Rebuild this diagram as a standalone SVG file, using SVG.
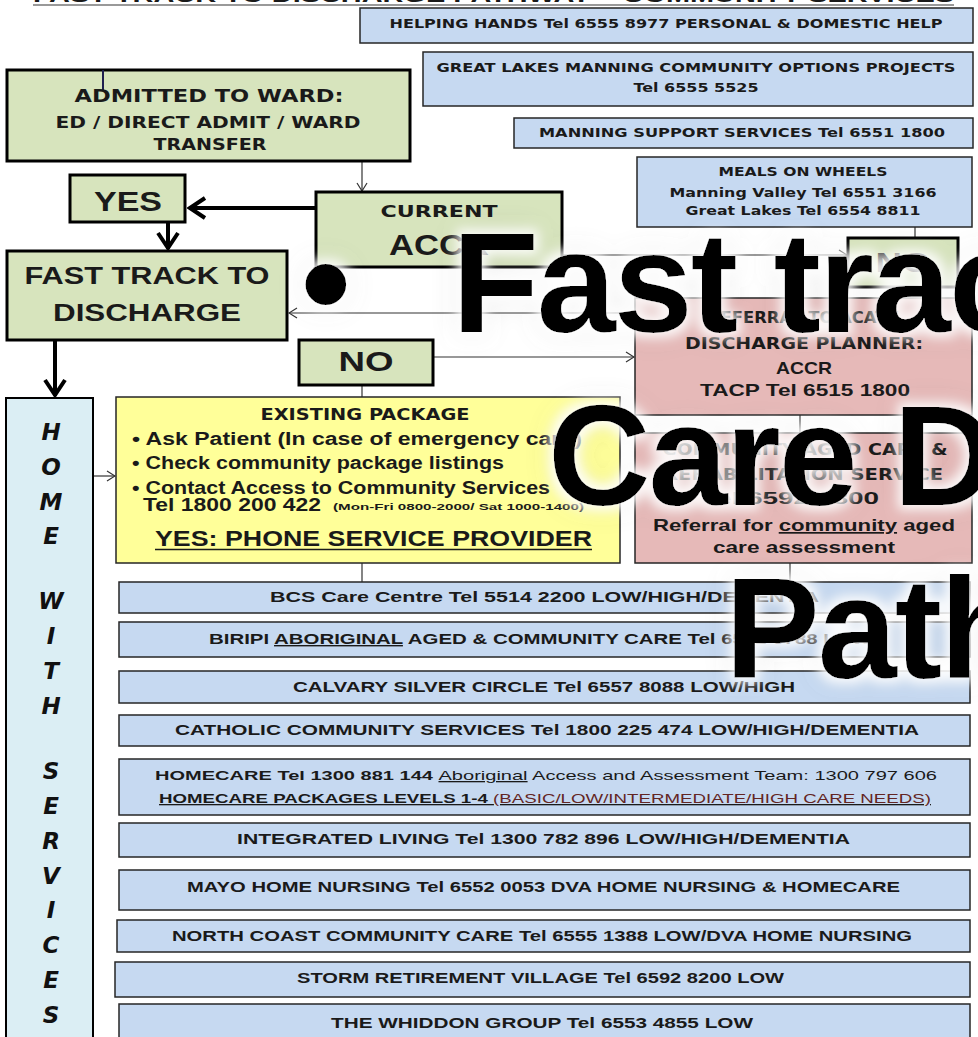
<svg xmlns="http://www.w3.org/2000/svg" width="978" height="1037" viewBox="0 0 978 1037">
<defs>
<style>
.g{fill:#d7e4bd;stroke:#000;stroke-width:3}
.b{fill:#c6d9f1;stroke:#262626;stroke-width:1.5}
.p{fill:#e6b9b8;stroke:#262626;stroke-width:1.5}
.y{fill:#ffff99;stroke:#262626;stroke-width:1.5}
.h{fill:#dbeef4;stroke:#000;stroke-width:2}
text{font-family:"Liberation Sans",Arial,sans-serif;font-weight:bold;fill:#1a1a1a}
.v{font-family:"DejaVu Sans",Verdana,sans-serif}
.m{text-anchor:middle}
.n{font-weight:normal}
.hl{font-family:"DejaVu Sans",Verdana,sans-serif;font-style:italic;font-weight:bold;font-size:23px;text-anchor:middle;fill:#111}
.c{fill:none;stroke:#333;stroke-width:1.2}
.k{fill:none;stroke:#000;stroke-width:4}
.big{font-family:"Liberation Sans",Arial,sans-serif;font-weight:bold;font-size:142px;letter-spacing:-2px;fill:#000}
</style>
<marker id="ah" viewBox="0 0 10 12" refX="9" refY="6" markerWidth="10" markerHeight="12" markerUnits="userSpaceOnUse" orient="auto"><path d="M1,1 L9,6 L1,11" fill="none" stroke="#333" stroke-width="1.2"/></marker>
<marker id="ahb" viewBox="0 0 20 24" refX="18" refY="12" markerWidth="20" markerHeight="24" markerUnits="userSpaceOnUse" orient="auto"><path d="M2,2 L17,12 L2,22" fill="none" stroke="#000" stroke-width="4"/></marker>
<filter id="glow" x="-10%" y="-40%" width="120%" height="180%">
<feGaussianBlur in="SourceAlpha" stdDeviation="14" result="b2"/>
<feFlood flood-color="#000" flood-opacity="0.22"/>
<feComposite in2="b2" operator="in" result="g"/>
<feMorphology in="SourceAlpha" operator="dilate" radius="5" result="d"/>
<feGaussianBlur in="d" stdDeviation="6" result="b"/>
<feFlood flood-color="#fff" flood-opacity="0.9"/>
<feComposite in2="b" operator="in" result="w"/>
<feMerge><feMergeNode in="g"/><feMergeNode in="w"/><feMergeNode in="SourceGraphic"/></feMerge>
</filter>
</defs>
<rect width="978" height="1037" fill="#fff"/>

<g id="title">
<text x="33" y="1.5" font-size="20" fill="#555" textLength="921" lengthAdjust="spacingAndGlyphs">FAST TRACK TO DISCHARGE PATHWAY – COMMUNITY SERVICES</text>
<line x1="33" y1="5" x2="954" y2="5" stroke="#777" stroke-width="1.5"/>
</g>

<g id="connectors">
<line class="c" x1="362" y1="161" x2="362" y2="191" marker-end="url(#ah)"/>
<line class="k" x1="316" y1="208" x2="189" y2="208" marker-end="url(#ahb)"/>
<line class="k" x1="168" y1="222" x2="168" y2="249" marker-end="url(#ahb)"/>
<line class="k" x1="55" y1="340" x2="55" y2="396" marker-end="url(#ahb)"/>
<line class="c" x1="562" y1="255" x2="847" y2="255" marker-end="url(#ah)"/>
<line class="c" x1="915" y1="227" x2="915" y2="238"/>
<line class="c" x1="635" y1="313" x2="289" y2="313" marker-end="url(#ah)"/>
<line class="c" x1="433" y1="357" x2="634" y2="357" marker-end="url(#ah)"/>
<line class="c" x1="362" y1="385" x2="362" y2="397"/>
<line class="c" x1="93" y1="476" x2="115" y2="476" marker-end="url(#ah)"/>
<line class="c" x1="362" y1="563" x2="362" y2="582"/>
<line class="c" x1="790" y1="563" x2="790" y2="582"/>
<line class="c" x1="800" y1="415" x2="800" y2="433"/>
</g>

<g id="helping-hands">
<rect class="b" x="360" y="8" width="613" height="35"/>
<text class="v m" x="666" y="28" font-size="13" textLength="553" lengthAdjust="spacingAndGlyphs">HELPING HANDS Tel 6555 8977 PERSONAL &amp; DOMESTIC HELP</text>
</g>
<g id="great-lakes">
<rect class="b" x="423" y="52" width="550" height="54"/>
<text class="v m" x="696" y="72" font-size="13" textLength="519" lengthAdjust="spacingAndGlyphs">GREAT LAKES MANNING COMMUNITY OPTIONS PROJECTS</text>
<text class="v m" x="696" y="92" font-size="13" textLength="125" lengthAdjust="spacingAndGlyphs">Tel 6555 5525</text>
</g>
<g id="manning-support">
<rect class="b" x="514" y="118" width="459" height="30"/>
<text class="v m" x="742" y="137" font-size="13" textLength="406" lengthAdjust="spacingAndGlyphs">MANNING SUPPORT SERVICES Tel 6551 1800</text>
</g>
<g id="meals">
<rect class="b" x="637" y="157" width="335" height="70"/>
<text class="v m" x="803" y="176" font-size="13" textLength="169" lengthAdjust="spacingAndGlyphs">MEALS ON WHEELS</text>
<text class="v m" x="803" y="197" font-size="13" textLength="267" lengthAdjust="spacingAndGlyphs">Manning Valley Tel 6551 3166</text>
<text class="v m" x="803" y="215" font-size="13" textLength="235" lengthAdjust="spacingAndGlyphs">Great Lakes Tel 6554 8811</text>
</g>

<g id="admitted">
<rect class="g" x="7" y="70" width="403" height="91"/>
<line x1="103" y1="70" x2="103" y2="91" stroke="#1f1f4f" stroke-width="2"/>
<text class="v m" x="209" y="102" font-size="18" textLength="269" lengthAdjust="spacingAndGlyphs">ADMITTED TO WARD:</text>
<text class="v m" x="208" y="128" font-size="16" textLength="305" lengthAdjust="spacingAndGlyphs">ED / DIRECT ADMIT / WARD</text>
<text class="v m" x="210" y="150" font-size="16" textLength="113" lengthAdjust="spacingAndGlyphs">TRANSFER</text>
</g>
<g id="yes">
<rect class="g" x="70" y="175" width="115" height="47"/>
<text class="m" x="128" y="211" font-size="27" textLength="68" lengthAdjust="spacingAndGlyphs">YES</text>
</g>
<g id="current-accr">
<rect class="g" x="316" y="192" width="246" height="75"/>
<text class="v m" x="439" y="217" font-size="16" textLength="117" lengthAdjust="spacingAndGlyphs">CURRENT</text>
<text class="m" x="439" y="255" font-size="29" textLength="100" lengthAdjust="spacingAndGlyphs">ACCR</text>
</g>
<g id="fast-track">
<rect class="g" x="7" y="251" width="280" height="89"/>
<text class="m" x="147" y="284" font-size="24" textLength="245" lengthAdjust="spacingAndGlyphs">FAST TRACK TO</text>
<text class="m" x="147" y="321" font-size="24" textLength="188" lengthAdjust="spacingAndGlyphs">DISCHARGE</text>
</g>
<g id="no-left">
<rect class="g" x="299" y="340" width="134" height="45"/>
<text class="m" x="366" y="371" font-size="27" textLength="55" lengthAdjust="spacingAndGlyphs">NO</text>
</g>
<g id="no-right">
<rect class="g" x="848" y="238" width="110" height="49"/>
<text class="m" x="903" y="272" font-size="27" textLength="55" lengthAdjust="spacingAndGlyphs">NO</text>
</g>

<g id="referral">
<rect class="p" x="635" y="298" width="337" height="117"/>
<text class="v m" x="803" y="323" font-size="15" textLength="190" lengthAdjust="spacingAndGlyphs">REFERRAL TO ACAT /</text>
<text class="v m" x="804" y="349" font-size="15" textLength="238" lengthAdjust="spacingAndGlyphs">DISCHARGE PLANNER:</text>
<text class="m" x="804" y="374" font-size="17" textLength="56" lengthAdjust="spacingAndGlyphs">ACCR</text>
<text class="m" x="805" y="396" font-size="17" textLength="210" lengthAdjust="spacingAndGlyphs">TACP Tel 6515 1800</text>
</g>
<g id="community-aged-care">
<rect class="p" x="635" y="433" width="337" height="130"/>
<text class="v m" x="805" y="455" font-size="15" textLength="285" lengthAdjust="spacingAndGlyphs">COMMUNITY AGED CARE &amp;</text>
<text class="v m" x="803" y="480" font-size="15" textLength="280" lengthAdjust="spacingAndGlyphs">REHABILITATION SERVICE</text>
<text class="m" x="790" y="504" font-size="17" textLength="178" lengthAdjust="spacingAndGlyphs">Tel 6592 6800</text>
<text class="m" x="804" y="531" font-size="17" textLength="302" lengthAdjust="spacingAndGlyphs">Referral for <tspan text-decoration="underline">community</tspan> aged</text>
<text class="m" x="804" y="553" font-size="17" textLength="182" lengthAdjust="spacingAndGlyphs">care assessment</text>
</g>

<g id="existing-package">
<rect class="y" x="116" y="397" width="504" height="166"/>
<text class="v m" x="365" y="420" font-size="15" textLength="209" lengthAdjust="spacingAndGlyphs">EXISTING PACKAGE</text>
<text x="132" y="445" font-size="18" textLength="450" lengthAdjust="spacingAndGlyphs">• Ask Patient (In case of emergency card)</text>
<text x="132" y="469" font-size="18" textLength="372" lengthAdjust="spacingAndGlyphs">• Check community package listings</text>
<text x="132" y="494" font-size="18" textLength="418" lengthAdjust="spacingAndGlyphs">• Contact Access to Community Services</text>
<text x="143" y="511" font-size="18" textLength="178" lengthAdjust="spacingAndGlyphs">Tel 1800 200 422</text>
<text x="333" y="510" font-size="9.5" textLength="251" lengthAdjust="spacingAndGlyphs">(Mon-Fri 0800-2000/ Sat 1000-1400)</text>
<text x="155" y="546" font-size="22" textLength="437" lengthAdjust="spacingAndGlyphs">YES: PHONE SERVICE PROVIDER</text>
<line x1="155" y1="549.5" x2="592" y2="549.5" stroke="#1a1a1a" stroke-width="1.5"/>
</g>

<g id="home-with-services">
<rect class="h" x="6" y="398" width="87" height="660"/>
<text class="hl" x="51" y="440">H</text>
<text class="hl" x="51" y="475">O</text>
<text class="hl" x="51" y="510">M</text>
<text class="hl" x="51" y="544">E</text>
<text class="hl" x="51" y="609">W</text>
<text class="hl" x="51" y="644">I</text>
<text class="hl" x="51" y="679">T</text>
<text class="hl" x="51" y="714">H</text>
<text class="hl" x="51" y="779">S</text>
<text class="hl" x="51" y="814">E</text>
<text class="hl" x="51" y="849">R</text>
<text class="hl" x="51" y="884">V</text>
<text class="hl" x="51" y="918">I</text>
<text class="hl" x="51" y="953">C</text>
<text class="hl" x="51" y="988">E</text>
<text class="hl" x="51" y="1023">S</text>
</g>

<g id="bcs">
<rect class="b" x="119" y="582" width="851" height="31"/>
<text x="270" y="602" font-size="14" textLength="549" lengthAdjust="spacingAndGlyphs">BCS Care Centre Tel 5514 2200 LOW/HIGH/DEMENTIA</text>
</g>
<g id="biripi">
<rect class="b" x="119" y="622" width="851" height="35"/>
<text x="209" y="644" font-size="14" textLength="662" lengthAdjust="spacingAndGlyphs">BIRIPI <tspan text-decoration="underline">ABORIGINAL</tspan> AGED &amp; COMMUNITY CARE Tel 6552 6788 LOW</text>
</g>
<g id="calvary">
<rect class="b" x="119" y="671" width="851" height="32"/>
<text x="293" y="692" font-size="14" textLength="502" lengthAdjust="spacingAndGlyphs">CALVARY SILVER CIRCLE Tel 6557 8088 LOW/HIGH</text>
</g>
<g id="catholic">
<rect class="b" x="119" y="715" width="851" height="31"/>
<text x="175" y="735" font-size="14" textLength="744" lengthAdjust="spacingAndGlyphs">CATHOLIC COMMUNITY SERVICES Tel 1800 225 474 LOW/HIGH/DEMENTIA</text>
</g>
<g id="homecare">
<rect class="b" x="119" y="759" width="851" height="56"/>
<text x="155" y="780" font-size="13" textLength="782" lengthAdjust="spacingAndGlyphs">HOMECARE Tel 1300 881 144 <tspan class="n" text-decoration="underline">Aboriginal</tspan><tspan class="n"> Access and Assessment Team: 1300 797 606</tspan></text>
<text x="159" y="803" font-size="13" textLength="772" lengthAdjust="spacingAndGlyphs" text-decoration="underline">HOMECARE PACKAGES LEVELS 1-4 <tspan class="n" fill="#632523">(BASIC/LOW/INTERMEDIATE/HIGH CARE NEEDS)</tspan></text>
</g>
<g id="integrated">
<rect class="b" x="119" y="823" width="851" height="34"/>
<text x="237" y="844" font-size="14" textLength="613" lengthAdjust="spacingAndGlyphs">INTEGRATED LIVING Tel 1300 782 896 LOW/HIGH/DEMENTIA</text>
</g>
<g id="mayo">
<rect class="b" x="119" y="870" width="851" height="40"/>
<text x="187" y="892" font-size="14" textLength="713" lengthAdjust="spacingAndGlyphs">MAYO HOME NURSING Tel 6552 0053 DVA HOME NURSING &amp; HOMECARE</text>
</g>
<g id="north-coast">
<rect class="b" x="117" y="920" width="853" height="32"/>
<text x="172" y="941" font-size="14" textLength="740" lengthAdjust="spacingAndGlyphs">NORTH COAST COMMUNITY CARE Tel 6555 1388 LOW/DVA HOME NURSING</text>
</g>
<g id="storm">
<rect class="b" x="115" y="962" width="855" height="35"/>
<text x="297" y="983" font-size="14" textLength="487" lengthAdjust="spacingAndGlyphs">STORM RETIREMENT VILLAGE Tel 6592 8200 LOW</text>
</g>
<g id="whiddon">
<rect class="b" x="119" y="1004" width="851" height="40"/>
<text x="331" y="1028" font-size="14" textLength="422" lengthAdjust="spacingAndGlyphs">THE WHIDDON GROUP Tel 6553 4855 LOW</text>
</g>

<g id="overlay-title" filter="url(#glow)">
<text class="big" x="301" y="332">•</text>
<text class="big" x="452" y="332">Fast track</text>
<text class="big" x="548" y="505">Care Discharge</text>
<text class="big" x="725" y="678">Pathway</text>
</g>
</svg>
